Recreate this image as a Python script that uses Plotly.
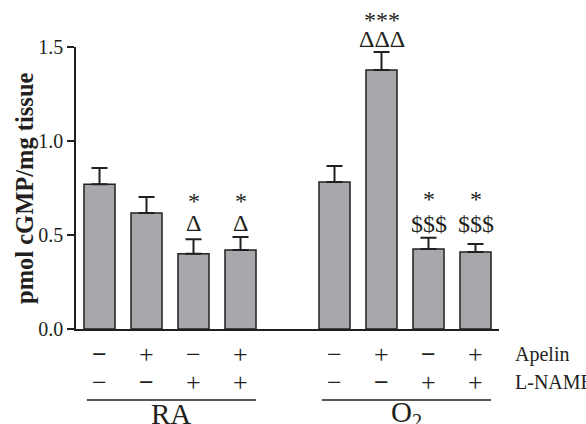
import plotly.graph_objects as go

# ---- data ----
groups = ["RA", "O<sub>2</sub>"]
values = [0.77, 0.617, 0.40, 0.42, 0.782, 1.378, 0.426, 0.409]
errors = [0.087, 0.085, 0.078, 0.069, 0.085, 0.096, 0.059, 0.043]
apelin = ["−b", "+", "−", "+", "−", "+", "−b", "+"]
lname = ["−", "−b", "+", "+", "−", "−b", "+", "+"]
sig_top = ["", "", "*", "*", "", "***", "*", "*"]
sig_bottom = ["", "", "Δ", "Δ", "", "ΔΔΔ", "$$$", "$$$"]
row_labels = ["Apelin", "L-NAME"]
y_ticks = [0.0, 0.5, 1.0, 1.5]
y_title = "pmol cGMP/mg tissue"

FONT = "Liberation Serif, Times New Roman, serif"
INK = "#231f20"

n_per_group = 4
xpos = [g * (n_per_group + 1) + i for g in range(len(groups)) for i in range(n_per_group)]

fig = go.Figure()
fig.add_trace(go.Bar(
    x=xpos, y=values, width=0.66,
    marker=dict(color="#a7a8ab", line=dict(color=INK, width=1.5)),
    error_y=dict(type="data", array=errors, arrayminus=[0] * len(errors),
                 symmetric=False, color=INK, thickness=2, width=8),
    cliponaxis=False,
    hoverinfo="skip",
))

annotations = []
shapes = []

# significance markers, anchored on the highest error bar of each L-NAME pair
tops = [v + e for v, e in zip(values, errors)]
for i, x in enumerate(xpos):
    if not sig_bottom[i]:
        continue
    g = i // n_per_group
    k = i % n_per_group
    if k >= 2:
        anchor = max(tops[g * n_per_group + 2], tops[g * n_per_group + 3])
        star_shift, sym_shift = (36, 14) if g == 0 else (39, 14)
    else:
        anchor = tops[i]
        star_shift, sym_shift = 32, 13
    annotations.append(dict(x=x, y=anchor, xref="x", yref="y", text=sig_bottom[i],
                            showarrow=False, yanchor="middle", yshift=sym_shift,
                            font=dict(family=FONT, size=24, color=INK)))
    annotations.append(dict(x=x, y=anchor, xref="x", yref="y", text=sig_top[i],
                            showarrow=False, yanchor="middle", yshift=star_shift,
                            font=dict(family=FONT, size=24, color=INK)))

# +/- treatment rows
row_y = [-0.092, -0.188]
for row, ry in zip([apelin, lname], row_y):
    for x, s in zip(xpos, row):
        bold = s == "−b"
        annotations.append(dict(x=x, y=ry, xref="x", yref="paper",
                                text="<b>−</b>" if bold else s,
                                showarrow=False, yanchor="middle",
                                font=dict(family=FONT, size=26, color=INK)))
for lab, ry in zip(row_labels, row_y):
    annotations.append(dict(x=1.033, y=ry, xref="paper", yref="paper", text=lab,
                            showarrow=False, xanchor="left", yanchor="middle",
                            font=dict(family=FONT, size=20, color=INK)))

# group lines and labels
for g, name in enumerate(groups):
    gx = xpos[g * n_per_group:(g + 1) * n_per_group]
    x0, x1 = gx[0] - 0.27, gx[-1] + 0.33
    shapes.append(dict(type="line", xref="x", yref="paper", x0=x0, x1=x1,
                       y0=-0.252, y1=-0.252, line=dict(color=INK, width=1.5)))
    annotations.append(dict(x=(x0 + x1) / 2, y=-0.30, xref="x", yref="paper", text=name,
                            showarrow=False, yanchor="middle",
                            font=dict(family=FONT, size=29, color=INK)))

# y-axis title
annotations.append(dict(x=-0.123, y=0.5, xref="paper", yref="paper",
                        text="<b>" + y_title + "</b>", textangle=-90, showarrow=False,
                        xanchor="center", yanchor="middle",
                        font=dict(family=FONT, size=24.5, color=INK)))

fig.update_layout(
    width=586, height=424,
    margin=dict(l=76, r=87, t=47, b=95),
    paper_bgcolor="white", plot_bgcolor="white",
    showlegend=False,
    annotations=annotations, shapes=shapes,
    xaxis=dict(range=[-0.5, 8.5], showline=True, linecolor=INK, linewidth=1.5,
               showticklabels=False, ticks="", showgrid=False, zeroline=False,
               fixedrange=True),
    yaxis=dict(range=[0, 1.5], tickvals=y_ticks,
               ticktext=[f"{t:.1f}" for t in y_ticks],
               showline=True, linecolor=INK, linewidth=1.5,
               ticks="outside", ticklen=7, tickwidth=1.5, tickcolor=INK,
               showgrid=False, zeroline=False,
               tickfont=dict(family=FONT, size=20, color=INK),
               fixedrange=True),
)

fig.write_html("out.html", config={"displayModeBar": False},
               post_script="document.body.style.margin='0';document.body.style.overflow='hidden';")
